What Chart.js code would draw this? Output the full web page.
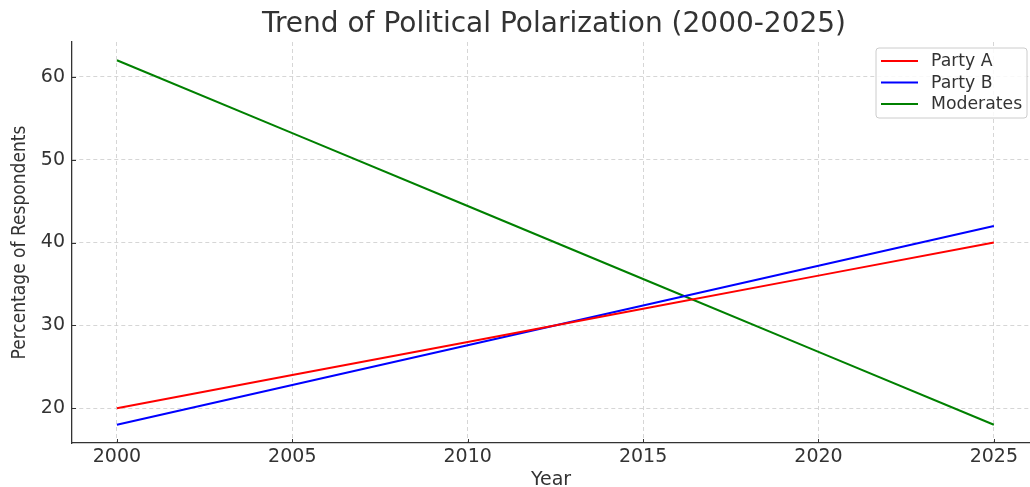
<!DOCTYPE html>
<html>
<head>
<meta charset="utf-8">
<script src="https://cdn.jsdelivr.net/npm/chart.js@4.4.1/dist/chart.umd.min.js"></script>
<style>
  html, body { margin: 0; padding: 0; background: #fff; }
  #wrap { width: 1030px; height: 487px; }
</style>
</head>
<body>
<div id="wrap"><canvas id="chart" width="1030" height="487"></canvas></div>
<script>
// Data
var years = [2000, 2005, 2010, 2015, 2020, 2025];
var partyA = [20, 24, 28, 32, 36, 40];
var partyB = [18, 22.8, 27.6, 32.4, 37.2, 42];
var moderates = [62, 53.2, 44.4, 35.6, 26.8, 18];
var yTicks = [20, 30, 40, 50, 60];
var xTicks = [2000, 2005, 2010, 2015, 2020, 2025];

var font = "'DejaVu Sans', sans-serif";
var textColor = "#333333";

function pts(vals) {
    return years.map(function (y, i) { return {x: y, y: vals[i]}; });
}

// Title, inward tick marks and legend drawn like the original
var overlay = {
    id: "overlay",
    afterDraw: function (chart) {
        var c = chart.ctx;
        var area = chart.chartArea;
        var xs = chart.scales.x, ys = chart.scales.y;
        c.save();

        // inward ticks
        c.strokeStyle = "#333333";
        c.lineWidth = 1;
        xTicks.forEach(function (v) {
            var px = Math.round(xs.getPixelForValue(v)) + 0.5;
            c.beginPath();
            c.moveTo(px, area.bottom);
            c.lineTo(px, area.bottom - 4);
            c.stroke();
        });
        yTicks.forEach(function (v) {
            var py = Math.round(ys.getPixelForValue(v)) + 0.5;
            c.beginPath();
            c.moveTo(area.left, py);
            c.lineTo(area.left + 4, py);
            c.stroke();
        });

        c.fillStyle = textColor;
        c.font = "28px " + font;
        c.textAlign = "center";
        c.textBaseline = "middle";
        c.fillText("Trend of Political Polarization (2000-2025)", 554, 25);

        // legend box
        var bx = 876, by = 48, bw = 151, bh = 70, r = 3;
        c.beginPath();
        c.moveTo(bx + r, by);
        c.arcTo(bx + bw, by, bx + bw, by + bh, r);
        c.arcTo(bx + bw, by + bh, bx, by + bh, r);
        c.arcTo(bx, by + bh, bx, by, r);
        c.arcTo(bx, by, bx + bw, by, r);
        c.closePath();
        c.fillStyle = "rgba(255,255,255,0.85)";
        c.fill();
        c.strokeStyle = "#cccccc";
        c.lineWidth = 1;
        c.stroke();

        c.font = "17.3px " + font;
        c.textAlign = "left";
        chart.data.datasets.forEach(function (ds, i) {
            var ly = by + 13 + i * 21.5;
            c.strokeStyle = ds.borderColor;
            c.lineWidth = 2;
            c.beginPath();
            c.moveTo(bx + 5, ly);
            c.lineTo(bx + 42, ly);
            c.stroke();
            c.fillStyle = textColor;
            c.fillText(ds.label, bx + 55, ly + 1);
        });
        c.restore();
    }
};

var ctx = document.getElementById("chart").getContext("2d");
var chart = new Chart(ctx, {
    type: "line",
    data: {
        datasets: [
            {label: "Party A", data: pts(partyA), borderColor: "#ff0000", borderWidth: 2, pointRadius: 0, fill: false},
            {label: "Party B", data: pts(partyB), borderColor: "#0000ff", borderWidth: 2, pointRadius: 0, fill: false},
            {label: "Moderates", data: pts(moderates), borderColor: "#008000", borderWidth: 2, pointRadius: 0, fill: false}
        ]
    },
    options: {
        responsive: false,
        animation: false,
        devicePixelRatio: 1,
        layout: {padding: {top: 42, right: 0, bottom: 0, left: 0}},
        plugins: {
            legend: {display: false},
            title: {display: false},
            tooltip: {enabled: false}
        },
        scales: {
            x: {
                type: "linear",
                min: 1998.72,
                max: 2026.03,
                afterBuildTicks: function (axis) {
                    axis.ticks = xTicks.map(function (v) { return {value: v}; });
                },
                afterFit: function (axis) { axis.height = 44; },
                ticks: {
                    color: textColor,
                    font: {family: font, size: 19},
                    padding: 3,
                    maxRotation: 0,
                    callback: function (v) { return String(v); }
                },
                grid: {color: "#cccccc", lineWidth: 0.8, drawTicks: false},
                border: {display: true, color: "#333333", width: 1.3, dash: [4, 3]},
                title: {display: true, text: "Year", color: textColor, font: {family: font, size: 19, lineHeight: 1}, padding: {top: 0, bottom: -3}}
            },
            y: {
                min: 15.8,
                max: 64.2,
                afterBuildTicks: function (axis) {
                    axis.ticks = yTicks.map(function (v) { return {value: v}; });
                },
                afterFit: function (axis) { axis.width = 72; },
                ticks: {
                    color: textColor,
                    font: {family: font, size: 19},
                    padding: 7
                },
                grid: {color: "#cccccc", lineWidth: 0.8, drawTicks: false},
                border: {display: true, color: "#333333", width: 1.3, dash: [4, 3]},
                title: {display: true, text: "Percentage of Respondents", color: textColor, font: {family: "'DejaVu Sans Condensed', 'DejaVu Sans', sans-serif", size: 19, lineHeight: 1}, padding: {top: 11, bottom: 0}}
            }
        }
    },
    plugins: [overlay]
});
</script>
</body>
</html>
